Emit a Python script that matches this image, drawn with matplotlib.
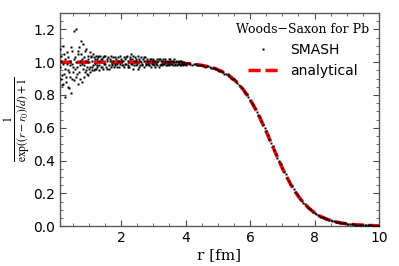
import matplotlib
matplotlib.use("Agg")
import matplotlib.pyplot as plt
from matplotlib.ticker import MultipleLocator

plt.rcParams['mathtext.fontset'] = 'stix'

r_noise = [0.100, 0.125, 0.150, 0.175, 0.200, 0.225, 0.250, 0.275, 0.300, 0.325,
           0.350, 0.375, 0.400, 0.425, 0.450, 0.475, 0.500, 0.525, 0.550, 0.575,
           0.600, 0.625, 0.650, 0.675, 0.700, 0.725, 0.750, 0.775, 0.800, 0.825,
           0.850, 0.875, 0.900, 0.925, 0.950, 0.975, 1.000, 1.025, 1.050, 1.075,
           1.100, 1.125, 1.150, 1.175, 1.200, 1.225, 1.250, 1.275, 1.300, 1.325,
           1.350, 1.375, 1.400, 1.425, 1.450, 1.475, 1.500, 1.525, 1.550, 1.575,
           1.600, 1.625, 1.650, 1.675, 1.700, 1.725, 1.750, 1.775, 1.800, 1.825,
           1.850, 1.875, 1.900, 1.925, 1.950, 1.975, 2.000]
y_noise = [1.08, 0.90, 1.04, 0.86, 1.10, 0.93, 0.79, 1.02, 0.88, 1.06,
           0.95, 0.84, 1.01, 0.91, 0.81, 1.07, 0.97, 1.19, 0.89, 1.03,
           1.20, 0.93, 1.05, 0.87, 1.09, 0.98, 1.13, 0.88, 1.02, 1.11,
           0.91, 1.07, 0.95, 1.08, 0.93, 1.04, 0.96, 1.06, 0.94, 1.03,
           0.97, 1.05, 0.95, 1.02, 0.96, 1.04, 0.98, 1.03, 0.95, 1.01,
           1.04, 0.97, 1.02, 0.96, 1.03, 0.99, 1.04, 0.97, 1.01, 0.96,
           1.03, 0.98, 1.02, 0.97, 1.04, 0.99, 1.01, 0.97, 1.03, 0.98,
           1.02, 0.99, 1.03, 0.97, 1.01, 0.99, 1.02]

r_noise2 = [0.1125, 0.1375, 0.1625, 0.1875, 0.2125, 0.2375, 0.2625, 0.2875, 0.3125, 0.3375,
            0.3625, 0.3875, 0.4125, 0.4375, 0.4625, 0.4875, 0.5125, 0.5375, 0.5625, 0.5875,
            0.6125, 0.6375, 0.6625, 0.6875, 0.7125, 0.7375, 0.7625, 0.7875, 0.8125, 0.8375,
            0.8625, 0.8875, 0.9125, 0.9375, 0.9625, 0.9875, 1.0125, 1.0375, 1.0625, 1.0875,
            1.1125, 1.1375, 1.1625, 1.1875, 1.2125, 1.2375, 1.2625, 1.2875]
y_noise2 = [0.97, 1.01, 0.92, 0.99, 0.87, 1.05, 0.96, 0.91, 0.99, 0.85,
            1.03, 0.94, 0.98, 1.09, 0.90, 0.99, 0.94, 1.02, 0.96, 0.91,
            1.00, 0.97, 1.07, 0.94, 1.01, 0.90, 1.05, 0.99, 0.96, 1.03,
            0.98, 0.94, 1.01, 0.97, 1.02, 0.92, 1.00, 0.97, 1.04, 0.95,
            1.01, 0.98, 1.03, 0.99, 0.96, 1.02, 0.97, 1.04]

r_flat = [2.025, 2.050, 2.075, 2.100, 2.125, 2.150, 2.175, 2.200, 2.225, 2.250,
          2.275, 2.300, 2.325, 2.350, 2.375, 2.400, 2.425, 2.450, 2.475, 2.500,
          2.525, 2.550, 2.575, 2.600, 2.625, 2.650, 2.675, 2.700, 2.725, 2.750,
          2.775, 2.800, 2.825, 2.850, 2.875, 2.900, 2.925, 2.950, 2.975, 3.000,
          3.025, 3.050, 3.075, 3.100, 3.125, 3.150, 3.175, 3.200, 3.225, 3.250,
          3.275, 3.300, 3.325, 3.350, 3.375, 3.400, 3.425, 3.450, 3.475, 3.500,
          3.525, 3.550, 3.575, 3.600, 3.625, 3.650, 3.675, 3.700, 3.725, 3.750,
          3.775, 3.800, 3.825, 3.850, 3.875, 3.900, 3.925, 3.950, 3.975, 4.000]
y_flat = [1.01, 0.98, 1.03, 0.97, 1.02, 0.99, 1.04, 0.98, 1.01, 0.97,
          1.03, 1.05, 0.99, 1.02, 0.96, 1.01, 1.03, 0.98, 1.02, 0.99,
          1.04, 0.97, 1.01, 0.98, 1.03, 0.99, 1.02, 0.97, 1.01, 1.03,
          0.98, 1.02, 0.99, 1.01, 0.98, 1.02, 0.97, 1.01, 0.99, 1.02,
          0.98, 1.01, 0.99, 1.02, 0.98, 1.01, 0.97, 1.02, 0.99, 1.01,
          0.98, 1.02, 0.99, 1.00, 1.02, 0.98, 1.01, 0.99, 1.02, 0.98,
          1.01, 0.99, 1.01, 0.98, 1.00, 1.02, 0.99, 1.01, 0.98, 1.00,
          1.01, 0.99, 0.98, 1.01, 0.99, 1.00, 0.98, 1.00, 0.99, 0.98]

r_flat2 = [1.3125, 1.3625, 1.4125, 1.4625, 1.5125, 1.5625, 1.6125, 1.6625, 1.7125, 1.7625,
           1.8125, 1.8625, 1.9125, 1.9625, 2.0125, 2.0625, 2.1125, 2.1625, 2.2125, 2.2625,
           2.3125, 2.3625, 2.4125, 2.4625, 2.5125, 2.5625, 2.6125, 2.6625, 2.7125, 2.7625,
           2.8125, 2.8625, 2.9125, 2.9625, 3.0125, 3.0625, 3.1125, 3.1625, 3.2125, 3.2625,
           3.3125, 3.3625, 3.4125, 3.4625, 3.5125, 3.5625, 3.6125, 3.6625, 3.7125, 3.7625,
           3.8125, 3.8625, 3.9125, 3.9625]
y_flat2 = [0.98, 1.02, 0.97, 1.04, 0.99, 1.02, 0.96, 1.01, 0.98, 1.03,
           0.99, 0.97, 1.01, 1.04, 0.98, 1.01, 0.99, 1.03, 0.97, 1.02,
           0.99, 1.04, 0.98, 1.01, 0.96, 1.02, 1.00, 0.98, 1.03, 0.99,
           1.01, 0.98, 1.02, 0.99, 1.01, 0.97, 1.00, 1.02, 0.98, 1.01,
           0.99, 1.01, 0.98, 1.00, 1.02, 0.99, 1.01, 0.98, 1.00, 0.99,
           1.01, 0.98, 1.00, 0.99]

r_edge = [4.05, 4.1, 4.15, 4.2, 4.25, 4.3, 4.35, 4.4, 4.45, 4.5,
          4.55, 4.6, 4.65, 4.7, 4.75, 4.8, 4.85, 4.9, 4.95, 5.0,
          5.05, 5.1, 5.15, 5.2, 5.25, 5.3, 5.35, 5.4, 5.45, 5.5,
          5.55, 5.6, 5.65, 5.7, 5.75, 5.8, 5.85, 5.9, 5.95, 6.0,
          6.05, 6.1, 6.15, 6.2, 6.25, 6.3, 6.35, 6.4, 6.45, 6.5,
          6.55, 6.6, 6.65, 6.7, 6.75, 6.8, 6.85, 6.9, 6.95, 7.0,
          7.05, 7.1, 7.15, 7.2, 7.25, 7.3, 7.35, 7.4, 7.45, 7.5,
          7.55, 7.6, 7.65, 7.7, 7.75, 7.8, 7.85, 7.9, 7.95, 8.0,
          8.05, 8.1, 8.15, 8.2, 8.25, 8.3, 8.35, 8.4, 8.45, 8.5,
          8.55, 8.6, 8.65, 8.7, 8.75, 8.8, 8.85, 8.9, 8.95, 9.0,
          9.05, 9.1, 9.15, 9.2, 9.25, 9.3, 9.35, 9.4, 9.45, 9.5,
          9.55, 9.6, 9.65, 9.7, 9.75, 9.8, 9.85, 9.9, 9.95, 10.0]
y_edge = [0.993, 0.995, 0.987, 0.984, 0.989, 0.990, 0.983, 0.980, 0.984, 0.985,
          0.977, 0.973, 0.976, 0.977, 0.968, 0.964, 0.962, 0.966, 0.960, 0.950,
          0.948, 0.949, 0.942, 0.931, 0.928, 0.926, 0.918, 0.906, 0.899, 0.896,
          0.886, 0.871, 0.862, 0.856, 0.845, 0.826, 0.814, 0.805, 0.789, 0.768,
          0.754, 0.741, 0.722, 0.698, 0.680, 0.665, 0.643, 0.617, 0.597, 0.579,
          0.556, 0.529, 0.508, 0.489, 0.466, 0.438, 0.418, 0.399, 0.376, 0.352,
          0.333, 0.316, 0.295, 0.274, 0.259, 0.243, 0.224, 0.208, 0.196, 0.182,
          0.168, 0.154, 0.143, 0.134, 0.124, 0.112, 0.105, 0.097, 0.089, 0.081,
          0.075, 0.070, 0.064, 0.058, 0.054, 0.049, 0.045, 0.041, 0.038, 0.035,
          0.032, 0.029, 0.026, 0.024, 0.022, 0.020, 0.019, 0.017, 0.016, 0.014,
          0.013, 0.012, 0.011, 0.010, 0.009, 0.008, 0.008, 0.007, 0.006, 0.006,
          0.005, 0.005, 0.004, 0.004, 0.004, 0.003, 0.003, 0.003, 0.002, 0.002]

# analytical Woods-Saxon curve
r_ws = [0.1, 1.0, 2.0, 3.0, 3.5, 4.0, 4.1, 4.2, 4.3, 4.4, 4.5, 4.6, 4.7, 4.8, 4.9,
        5.0, 5.1, 5.2, 5.3, 5.4, 5.5, 5.6, 5.7, 5.8, 5.9, 6.0, 6.1, 6.2, 6.3, 6.4,
        6.5, 6.6, 6.7, 6.8, 6.9, 7.0, 7.1, 7.2, 7.3, 7.4, 7.5, 7.6, 7.7, 7.8, 7.9,
        8.0, 8.1, 8.2, 8.3, 8.4, 8.5, 8.6, 8.7, 8.8, 8.9, 9.0, 9.2, 9.4, 9.6, 9.8, 10.0]
y_ws = [1.000, 1.000, 1.000, 0.999, 0.997, 0.992, 0.991, 0.989, 0.987, 0.984,
        0.981, 0.977, 0.973, 0.968, 0.962, 0.954, 0.946, 0.935, 0.924, 0.910,
        0.894, 0.875, 0.854, 0.830, 0.802, 0.772, 0.738, 0.702, 0.662, 0.620,
        0.577, 0.532, 0.486, 0.441, 0.397, 0.354, 0.314, 0.276, 0.241, 0.210,
        0.181, 0.156, 0.133, 0.114, 0.097, 0.082, 0.069, 0.058, 0.049, 0.041,
        0.035, 0.029, 0.024, 0.020, 0.017, 0.014, 0.010, 0.007, 0.005, 0.003, 0.002]

r_smash = r_noise + r_noise2 + r_flat + r_flat2 + r_edge
y_smash = y_noise + y_noise2 + y_flat + y_flat2 + y_edge

fig = plt.figure(figsize=(3.99, 2.66), dpi=100)
ax = fig.add_axes([0.150, 0.150, 0.800, 0.801])

ax.plot(r_ws, y_ws, '--', color='red', lw=2.5, dashes=(3.5, 1.4), label='analytical',
        zorder=2)
ax.plot(r_smash, y_smash, 's', ms=1.8, mec='none', color='black', label='SMASH',
        zorder=3)

ax.set_xlim(0.1, 10)
ax.set_ylim(0, 1.3)
ax.xaxis.set_major_locator(MultipleLocator(2))
ax.xaxis.set_minor_locator(MultipleLocator(0.5))
ax.yaxis.set_major_locator(MultipleLocator(0.2))
ax.yaxis.set_minor_locator(MultipleLocator(0.05))
ax.tick_params(which='both', direction='in', top=True, right=True, labelsize=10,
               color='0.3')
ax.tick_params(which='major', length=4, width=0.8)
ax.tick_params(which='minor', length=2, width=0.6)
for s in ax.spines.values():
    s.set_color('0.35')
    s.set_linewidth(1.0)

ax.set_xlabel('r [fm]', family='DejaVu Serif', fontsize=11, labelpad=2)
# y label placed by hand so the fraction is not clipped at the left edge
fig.text(0.045, 0.551, r'$\frac{1}{\exp((r-r_0)/d)+1}$', fontsize=12,
         rotation=90, ha='center', va='center')

handles, labels = ax.get_legend_handles_labels()
leg = ax.legend(handles[::-1], labels[::-1], loc='upper right', frameon=False,
                fontsize=10, numpoints=1, markerscale=1.0, handlelength=2.2,
                borderaxespad=0.3, title='Woods\u2212Saxon for Pb',
                title_fontproperties={'family': 'DejaVu Serif', 'size': 9})

fig.savefig('out.png', dpi=100)
